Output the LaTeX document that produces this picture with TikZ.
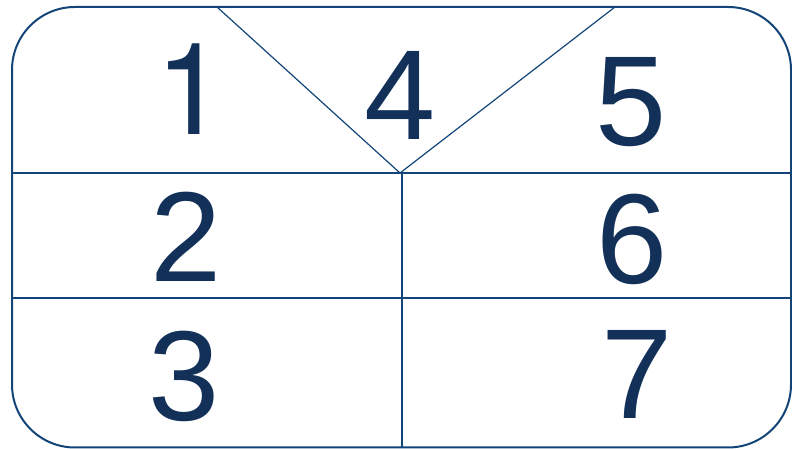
\documentclass[tikz,border=0pt]{standalone}
\usepackage{fontspec}
\setmainfont{Liberation Sans}
\newfontfamily\heros{TeX Gyre Heros}
\usepackage{xcolor}
\definecolor{framecol}{RGB}{18,68,120}
\definecolor{digitcol}{RGB}{18,48,88}

\begin{document}
\begin{tikzpicture}[x=1pt, y=1pt,
  frame/.style={draw=framecol, line width=2pt, rounded corners=63pt},
  divider/.style={draw=framecol, line width=1.2pt},
  digit/.style={text=digitcol, inner sep=0pt, anchor=base, font=\fontsize{128}{128}\selectfont}]
  \useasboundingbox (0,0) rectangle (792,449);
  % outer frame
  \coordinate (sw) at (12,1.5);
  \coordinate (ne) at (791,442);
  \draw[frame] (sw) rectangle (ne);
  % dividers
  \coordinate (midL) at (12,276);
  \coordinate (midR) at (791,276);
  \coordinate (lowL) at (12,151);
  \coordinate (lowR) at (791,151);
  \coordinate (apex) at (400,276);
  \coordinate (vtop) at (402,276);
  \coordinate (vbot) at (402,1.5);
  \coordinate (diagL) at (217,442);
  \coordinate (diagR) at (615,442);
  \draw[divider] (midL) -- (midR);
  \draw[divider] (lowL) -- (lowR);
  \draw[divider] (vtop) -- (vbot);
  \draw[divider] (diagL) -- (apex) -- (diagR);
  % numbers
  \node[digit, font=\heros\fontsize{128}{128}\selectfont] (one) at (191,314) {1};
  \node[digit] (four) at (400,309) {4};
  \node[digit] (five) at (631,303) {5};
  \node[digit] (two) at (186,167) {2};
  \node[digit] (six) at (632,165) {6};
  \node[digit] (three) at (184,28) {3};
  \node[digit] (seven) at (637,30) {7};
\end{tikzpicture}
\end{document}
